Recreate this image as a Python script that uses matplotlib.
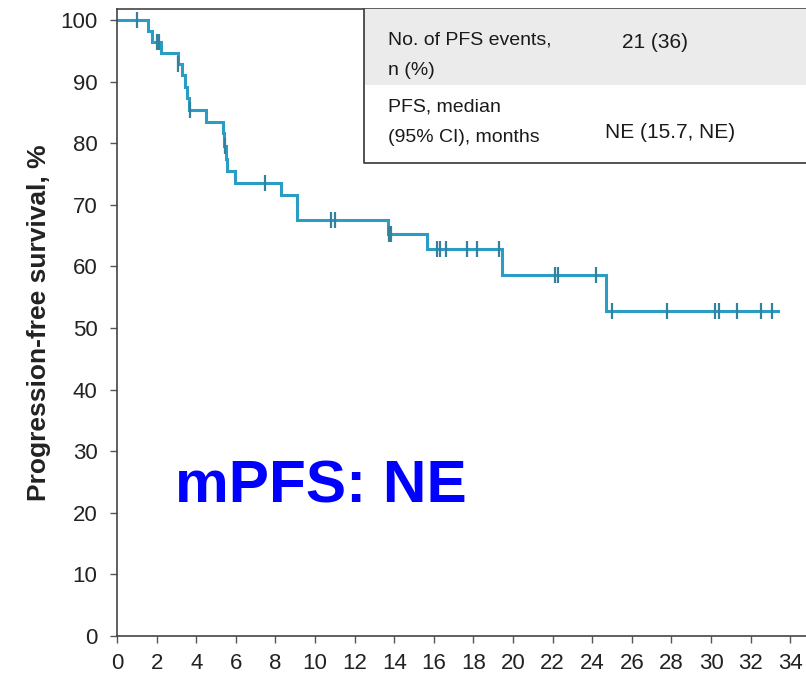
import numpy as np
import matplotlib
matplotlib.use('Agg')
import matplotlib.pyplot as plt
from matplotlib.patches import Rectangle

plt.rcParams['font.family'] = ['Liberation Sans', 'DejaVu Sans']

# Kaplan-Meier steps (months, % surviving after step)
step_times = [0, 1.55, 1.75, 2.2, 3.1, 3.27, 3.45, 3.55, 3.65, 4.5, 5.33, 5.4,
              5.5, 5.55, 5.96, 8.3, 9.1, 13.7, 15.64, 19.43, 24.7]
step_surv = [100, 98.2, 96.4, 94.6, 92.8, 91.0, 89.1, 87.3, 85.4, 83.4, 81.6, 79.6,
             77.5, 75.5, 73.6, 71.6, 67.6, 65.3, 62.8, 58.6, 52.7]
last_time = 33.4

# censored observations
censor_times = [1.0, 2.0, 2.1, 3.1, 3.68, 5.45, 7.47, 10.8, 11.0, 13.72, 13.85,
                16.15, 16.3, 16.6, 17.7, 18.2, 19.3, 22.1, 22.25, 24.2,
                25.0, 27.8, 30.2, 30.4, 31.3, 32.5, 33.1]

x_ticks = list(range(0, 35, 2))
y_ticks = list(range(0, 101, 10))

table_labels = ['No. of PFS events,\nn (%)', 'PFS, median\n(95% CI), months']
table_values = ['21 (36)', 'NE (15.7, NE)']
annotation = 'mPFS: NE'

line_color = '#2b9cc4'
mark_color = '#35809c'

fig = plt.figure(figsize=(8.06, 6.79), dpi=100)
ax = fig.add_axes([117 / 806, 1 - 636 / 679, 689 / 806, 627 / 679])

# step curve
xs = list(step_times) + [last_time]
ys = list(step_surv) + [step_surv[-1]]
ax.step(xs, ys, where='post', color=line_color, lw=2.2, solid_joinstyle='miter')

# censor ticks at curve level
st = np.array(step_times)
sv = np.array(step_surv)
cens_y = [sv[np.searchsorted(st, t, side='right') - 1] for t in censor_times]
ax.plot(censor_times, cens_y, ls='none', marker='|', ms=12, mew=1.6, color=mark_color)

ax.set_xlim(0, 689 / 19.8)
ax.set_ylim(0, 627 / 6.16)
ax.set_xticks(x_ticks)
ax.set_yticks(y_ticks)
ax.tick_params(axis='both', direction='out', length=5, width=1, color='#555555',
               labelsize=16, labelcolor='#222222')
ax.tick_params(axis='x', pad=7)
ax.tick_params(axis='y', pad=9)
for s in ['left', 'bottom', 'top']:
    ax.spines[s].set_color('#444444')
    ax.spines[s].set_linewidth(1.2)
ax.spines['right'].set_visible(False)

ax.set_ylabel('Progression-free survival, %', fontsize=19, fontweight='bold',
              color='#222222', labelpad=7)

# summary table in upper right
tl, tb, tmid = 0.3585, 0.7549, 0.8788
ax.add_patch(Rectangle((tl, tmid), 1 - tl, 1 - tmid, transform=ax.transAxes,
                       facecolor='#ebebeb', edgecolor='none', zorder=3))
ax.add_patch(Rectangle((tl, tb), 1 - tl, tmid - tb, transform=ax.transAxes,
                       facecolor='white', edgecolor='none', zorder=3))
ax.plot([tl, tl, 1], [1, tb, tb], transform=ax.transAxes, color='#444444', lw=1.3,
        zorder=4, clip_on=False)
label_y = [0.926, 0.819]
value_y = [0.947, 0.803]
value_x = [(655 - 117) / 689, (670 - 117) / 689]
for lab, val, ly, vy, vx in zip(table_labels, table_values, label_y, value_y, value_x):
    ax.text(0.3933, ly, lab, transform=ax.transAxes, fontsize=14, va='center',
            ha='left', color='#1a1a1a', linespacing=2.0, zorder=5)
    ax.text(vx, vy, val, transform=ax.transAxes, fontsize=15, va='center',
            ha='center', color='#1a1a1a', zorder=5)

ax.text(0.0842, 0.2137, annotation, transform=ax.transAxes, fontsize=43.5,
        fontweight='bold', color='#0000ff', va='baseline', ha='left')

fig.savefig('out.png', dpi=100)
